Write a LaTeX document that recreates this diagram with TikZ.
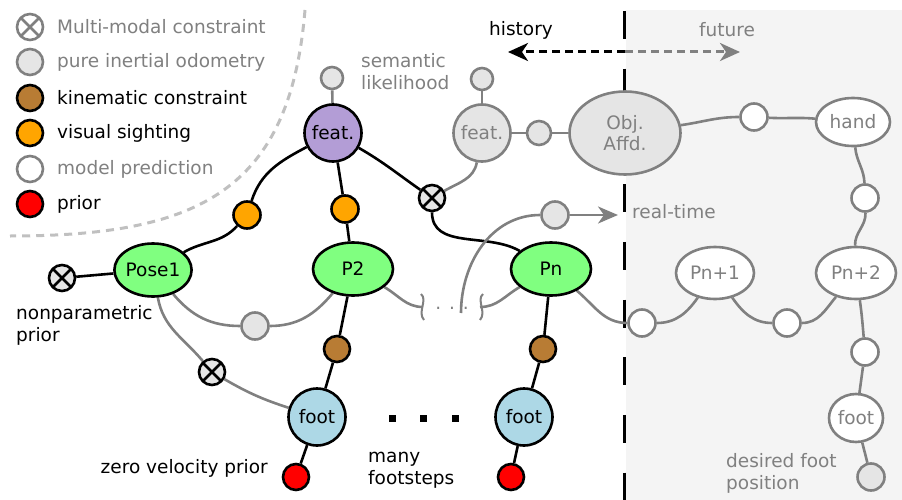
\documentclass[tikz,border=0pt]{standalone}
\usepackage{fontspec}
\setmainfont{DejaVu Sans}
\usetikzlibrary{shapes.geometric,arrows.meta}
\pgfdeclarelayer{back}
\pgfdeclarelayer{edges}
\pgfsetlayers{back,edges,main}
\definecolor{gr}{RGB}{128,128,128}
\definecolor{lg}{RGB}{229,229,229}
\definecolor{bgc}{RGB}{244,244,244}
\definecolor{grn}{RGB}{128,255,128}
\definecolor{pur}{RGB}{179,157,214}
\definecolor{brn}{RGB}{184,124,52}
\definecolor{org}{RGB}{255,165,0}
\definecolor{lb}{RGB}{173,216,230}
\definecolor{dashg}{RGB}{192,192,192}
\begin{document}
\begin{tikzpicture}[x=1pt,y=1pt,
  font=\fontsize{18.5}{22}\selectfont,
  lw/.style={line width=2.6pt},
  fac/.style={circle,draw,lw,inner sep=0pt,minimum size=26pt},
  bfac/.style={fac,draw=black,fill=#1},
  gfac/.style={fac,draw=gr,fill=#1},
  sfac/.style={fac,draw=gr,fill=lg,minimum size=22pt},
  xfac/.style={fac,draw=#1,path picture={\draw[draw=#1,line width=2.6pt]
     (path picture bounding box.north west)--(path picture bounding box.south east)
     (path picture bounding box.north east)--(path picture bounding box.south west);}},
  big/.style={circle,draw,lw,inner sep=0pt,minimum size=57pt},
  ell/.style={ellipse,draw,lw,inner sep=0pt,minimum width=#1},
  lbl/.style={anchor=west,align=left,inner sep=0pt},
  tip/.style={-{Stealth[length=20pt,width=18pt,inset=6pt]}},
  bedge/.style={draw=black,lw},
  gedge/.style={draw=gr,lw},
]
\useasboundingbox (0,0) rectangle (902,-500);

% background
\begin{pgfonlayer}{back}
\fill[bgc] (626,-10) rectangle (902,-500);
\coordinate (vtop) at (624,-11);
\coordinate (vbot) at (624,-500);
\draw[black,line width=3pt,dash pattern=on 28pt off 29.7pt] (vtop) -- (vbot);
\coordinate (cvA) at (305,-10);
\coordinate (cvB) at (10,-236);
\draw[dashg,line width=3pt,dash pattern=on 8pt off 6pt] (cvA) .. controls (290,-190) and (200,-236) .. (cvB);
\end{pgfonlayer}

% legend
\node[xfac=gr,fill=white] (L1) at (30,-27) {};
\node[gfac=lg] (L2) at (30,-62) {};
\node[bfac=brn] (L3) at (30,-98) {};
\node[bfac=org] (L4) at (30,-133) {};
\node[gfac=white] (L5) at (30,-169) {};
\node[bfac=red] (L6) at (30,-204) {};
\node[lbl,text=gr] (T1) at (57,-27) {Multi-modal constraint};
\node[lbl,text=gr] (T2) at (57,-62) {pure inertial odometry};
\node[lbl] (T3) at (57,-98) {kinematic constraint};
\node[lbl] (T4) at (57,-133) {visual sighting};
\node[lbl,text=gr] (T5) at (57,-169) {model prediction};
\node[lbl] (T6) at (57,-204) {prior};

% history / future
\coordinate (mid) at (625,-52);
\coordinate (hist) at (508,-52);
\coordinate (fut) at (740,-52);
\draw[black,line width=3pt,dash pattern=on 8pt off 5pt,tip] (mid) -- (hist);
\draw[gr,line width=3pt,dash pattern=on 8pt off 5pt,tip] (mid) -- (fut);
\node (hl) at (521,-30) {history};
\node[text=gr] (fl) at (727,-30) {future};

% main nodes
\node[big,fill=pur] (feat) at (333,-133) {feat.};
\node[big,fill=lg,draw=gr,text=gr] (gfeat) at (482,-133) {feat.};
\node[sfac] (st1) at (332,-78) {};
\node[sfac] (st2) at (482,-79) {};
\node[gfac=lg,minimum size=24pt] (gc1) at (539,-133) {};
\node[ell=111pt,minimum height=83pt,fill=lg,draw=gr,text=gr,align=center] (obj) at (625,-133) {Obj.\\[-1pt]Affd.};
\node[lbl,text=gr] (sem) at (361,-72) {semantic\\likelihood};
\node[xfac=black,fill=lg] (x1) at (432,-198) {};
\node[bfac=org,minimum size=27pt] (orB) at (345,-209) {};
\node[bfac=org,minimum size=27pt] (orA) at (247,-215) {};
\node[ell=72pt,minimum height=53pt,fill=grn] (pose1) at (153,-270) {Pose1};
\node[xfac=black,fill=lg] (x0) at (62,-278) {};
\node[lbl] (np) at (16,-325) {nonparametric\\prior};
\node[gfac=lg,minimum size=27pt] (g1) at (255,-326) {};
\node[xfac=black,fill=lg] (x2) at (212,-372) {};
\node[big,fill=lb] (foot1) at (317,-417) {foot};
\node[bfac=red] (red1) at (296,-477) {};
\node[anchor=east,inner sep=0pt] (zv) at (268,-468) {zero velocity prior};
\node[ell=80pt,minimum height=53pt,fill=grn] (P2) at (353,-269) {P2};
\node[bfac=brn] (br1) at (337,-349) {};
\node[ell=80pt,minimum height=53pt,fill=grn] (Pn) at (551,-269) {Pn};
\node[bfac=brn] (br2) at (543,-349) {};
\node[big,fill=lb] (footn) at (524,-417) {foot};
\node[bfac=red] (red2) at (511,-477) {};
\node[fill=black,minimum size=7pt,inner sep=0pt] (d1) at (392,-418) {};
\node[fill=black,minimum size=7pt,inner sep=0pt] (d2) at (423,-418) {};
\node[fill=black,minimum size=7pt,inner sep=0pt] (d3) at (455,-418) {};
\node[lbl] (mf) at (368,-470) {many\\footsteps};
\node[anchor=base,text=gr,inner sep=0pt] (ellip) at (452,-309) {. . .};
\node[gfac=lg,minimum size=27pt] (rt) at (555,-215) {};
\coordinate (rtend) at (618,-215);
\node[lbl,text=gr] (rtl) at (632,-212) {real-time};

\node[gfac=white,minimum size=27pt] (w1) at (642,-323) {};
\node[ell=78pt,minimum height=52pt,fill=white,draw=gr,text=gr] (Pn1) at (715,-273) {Pn+1};
\node[gfac=white,minimum size=27pt] (w2) at (787,-323) {};
\node[ell=80pt,minimum height=52pt,fill=white,draw=gr,text=gr] (Pn2) at (856,-273) {Pn+2};
\node[gfac=white,minimum size=27pt] (w3) at (865,-352) {};
\node[ell=54pt,minimum height=48pt,fill=white,draw=gr,text=gr] (footr) at (856,-418) {foot};
\node[gfac=lg,minimum size=27pt] (des) at (871,-477) {};
\node[lbl,text=gr] (dl) at (726,-473) {desired foot\\position};
\node[gfac=white,minimum size=27pt] (w4) at (754,-117) {};
\node[ell=74pt,minimum height=48pt,fill=white,draw=gr,text=gr] (hand) at (853,-122) {hand};
\node[gfac=white,minimum size=27pt] (w5) at (865,-198) {};

\coordinate (brk1) at (423,-307);
\coordinate (brk2) at (480,-307);
\coordinate (arcs) at (461,-313);

\begin{pgfonlayer}{edges}
% black edges
\draw[bedge] (x0) -- (pose1);
\draw[bedge] (pose1) to[out=30,in=228] (orA);
\draw[bedge] (orA) to[out=72,in=208] (feat);
\draw[bedge] (feat) -- (orB) -- (P2);
\draw[bedge] (feat) to[out=-30,in=145] (x1);
\draw[bedge] (x1) to[out=-90,in=150] (Pn);
\draw[bedge] (P2) -- (br1) -- (foot1) -- (red1);
\draw[bedge] (Pn) -- (br2) -- (footn) -- (red2);
% gray edges
\draw[gedge] (feat) -- (st1);
\draw[gedge] (gfeat) -- (st2);
\draw[gedge] (gfeat) -- (gc1) -- (obj);
\draw[gedge] (gfeat) to[out=-100,in=30] (x1);
\draw[gedge] (pose1) to[out=-50,in=180] (g1);
\draw[gedge] (g1) to[out=0,in=230] (P2);
\draw[gedge] (pose1) to[out=-80,in=130] (x2);
\draw[gedge] (x2) to[out=-30,in=162] (foot1);
\draw[gedge] (P2) to[out=-30,in=180] (brk1);
\draw[gedge] (Pn) to[out=210,in=0] (brk2);
\draw[gedge,line width=2pt] (421,-294) .. controls (428,-300) and (417,-312) .. (424,-320);
\draw[gedge,line width=2pt] (483,-294) .. controls (476,-300) and (487,-312) .. (480,-320);
\draw[gedge] (arcs) to[out=90,in=180] (rt);
\draw[gedge,-{Stealth[length=20pt,width=17pt,inset=6pt]}] (rt) -- (rtend);
\draw[gedge] (Pn) to[out=-40,in=180] (w1);
\draw[gedge] (w1) to[out=0,in=235] (Pn1);
\draw[gedge] (Pn1) to[out=-55,in=180] (w2);
\draw[gedge] (w2) to[out=0,in=230] (Pn2);
\draw[gedge] (Pn2) to[out=-82,in=95] (w3);
\draw[gedge] (w3) -- (footr);
\draw[gedge] (footr) -- (des);
\draw[gedge] (obj) to[out=8,in=180] (w4);
\draw[gedge] (w4) to[out=-3,in=175] (hand);
\draw[gedge] (hand) to[out=-85,in=92] (w5);
\draw[gedge] (w5) to[out=-88,in=92] (Pn2);
\end{pgfonlayer}
\end{tikzpicture}
\end{document}
